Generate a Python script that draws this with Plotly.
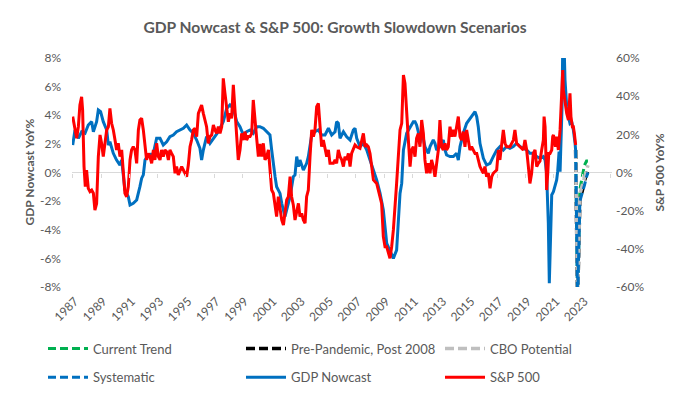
import plotly.graph_objects as go

# ---------------- data ----------------
gdp_dates = [
    1986.84, 1987.00, 1987.24, 1987.47, 1987.71, 1987.94, 1988.18, 1988.30, 1988.53, 1988.65,
    1988.81, 1989.00, 1989.24, 1989.36, 1989.47, 1989.59, 1989.71, 1989.94, 1990.18, 1990.30,
    1990.42, 1990.53, 1990.77, 1990.89, 1991.12, 1991.36, 1991.59, 1991.71, 1991.83, 1991.95,
    1992.18, 1992.54, 1992.77, 1993.01, 1993.24, 1993.48, 1993.71, 1993.95, 1994.18, 1994.42,
    1994.66, 1994.89, 1995.13, 1995.36, 1995.60, 1995.83, 1995.95, 1996.07, 1996.30, 1996.54,
    1996.78, 1997.13, 1997.48, 1997.72, 1997.95, 1998.19, 1998.43, 1998.66, 1998.90, 1999.13,
    1999.37, 1999.60, 1999.84, 2000.07, 2000.31, 2000.55, 2000.78, 2000.90, 2001.02, 2001.14,
    2001.25, 2001.49, 2001.61, 2001.73, 2001.84, 2001.96, 2002.20, 2002.43, 2002.55, 2002.67,
    2002.79, 2002.90, 2003.02, 2003.14, 2003.37, 2003.49, 2003.73, 2003.96, 2004.20, 2004.43,
    2004.67, 2004.91, 2005.14, 2005.38, 2005.49, 2005.61, 2005.73, 2005.97, 2006.20, 2006.44,
    2006.67, 2006.79, 2006.91, 2007.14, 2007.38, 2007.62, 2007.85, 2008.09, 2008.32, 2008.56,
    2008.79, 2009.03, 2009.26, 2009.50, 2009.73, 2009.85, 2009.97, 2010.09, 2010.21, 2010.44,
    2010.68, 2010.91, 2011.03, 2011.14, 2011.26, 2011.38, 2011.50, 2011.62, 2011.73, 2011.85,
    2011.97, 2012.09, 2012.32, 2012.44, 2012.56, 2012.79, 2013.03, 2013.15, 2013.26, 2013.50,
    2013.74, 2013.97, 2014.09, 2014.21, 2014.44, 2014.68, 2014.91, 2015.15, 2015.27, 2015.39,
    2015.50, 2015.62, 2015.74, 2015.86, 2016.09, 2016.33, 2016.56, 2016.80, 2017.03, 2017.27,
    2017.50, 2017.74, 2017.98, 2018.21, 2018.45, 2018.68, 2018.92, 2019.15, 2019.39, 2019.63,
    2019.86, 2020.10, 2020.22, 2020.33, 2020.45, 2020.52, 2020.62, 2020.69, 2020.81, 2020.92,
    2021.04, 2021.11, 2021.21, 2021.28, 2021.35, 2021.42, 2021.47, 2021.56, 2021.63, 2021.75,
    2021.87, 2021.98, 2022.10, 2022.22, 2022.34, 2022.38,
]
gdp_yoy = [
    1.92, 2.97, 2.39, 2.85, 2.74, 3.32, 3.55, 2.85, 3.55, 4.37,
    4.25, 3.55, 2.97, 1.92, 2.15, 1.69, 1.34, 0.87, 0.52, 0.87,
    -0.41, -1.22, -1.69, -2.27, -2.15, -1.92, -0.99, -0.41, -0.17, 0.87,
    1.22, 1.34, 2.39, 2.39, 1.92, 2.15, 2.50, 2.62, 2.85, 2.97,
    3.09, 3.32, 2.97, 2.74, 2.27, 1.69, 0.87, 1.57, 2.50, 2.04,
    2.39, 2.85, 3.55, 4.48, 4.72, 4.48, 3.55, 3.20, 2.62, 2.85,
    2.97, 2.74, 3.20, 3.20, 3.09, 2.85, 2.62, 1.57, 0.41, -0.29,
    -0.99, -1.46, -2.15, -2.62, -3.09, -2.62, -1.69, -0.29, -0.17, 1.11,
    0.41, 0.87, 0.52, 0.17, 0.64, 1.11, 2.62, 2.85, 2.97, 2.62,
    2.62, 3.09, 2.62, 2.85, 3.55, 3.44, 2.39, 2.85, 2.50, 2.27,
    2.97, 3.09, 2.39, 1.81, 2.04, 1.57, 0.87, 0.17, -0.52, -1.46,
    -2.62, -4.95, -5.42, -6.00, -5.42, -3.55, -1.46, -0.76, 1.57, 2.74,
    3.20, 3.55, 3.55, 3.32, 2.85, 2.04, 2.97, 2.27, 1.81, 1.57,
    1.34, 1.81, 2.27, 2.04, 1.57, 1.81, 2.27, 1.57, 1.22, 1.11,
    1.11, 1.34, 0.87, 1.81, 2.74, 3.44, 3.79, 4.13, 4.25, 3.90,
    3.20, 2.04, 1.57, 0.99, 0.52, 0.64, 1.11, 1.57, 1.81, 1.57,
    1.81, 1.69, 1.81, 2.04, 1.81, 1.69, 1.57, 1.34, 1.34, 1.11,
    0.99, 1.11, 0.87, -0.06, -3.55, -7.74, -2.86, -1.57, -1.34, -0.99,
    -0.52, 0.06, 1.46, 0.06, 1.81, 4.60, 9.00, 9.00, 6.46, 4.60,
    3.90, 3.44, 3.55, 2.97, 2.04, 1.57,
]

sp_dates = [
    1986.84, 1987.00, 1987.12, 1987.24, 1987.35, 1987.47, 1987.54, 1987.64, 1987.73, 1987.82,
    1987.94, 1988.06, 1988.18, 1988.30, 1988.41, 1988.53, 1988.65, 1988.77, 1988.88, 1989.00,
    1989.12, 1989.24, 1989.36, 1989.47, 1989.59, 1989.71, 1989.83, 1989.94, 1990.06, 1990.18,
    1990.30, 1990.42, 1990.53, 1990.65, 1990.77, 1990.89, 1991.00, 1991.12, 1991.24, 1991.36,
    1991.48, 1991.59, 1991.71, 1991.83, 1991.95, 1992.06, 1992.18, 1992.30, 1992.42, 1992.54,
    1992.65, 1992.77, 1992.89, 1993.01, 1993.12, 1993.24, 1993.36, 1993.48, 1993.60, 1993.71,
    1993.83, 1993.95, 1994.07, 1994.18, 1994.30, 1994.42, 1994.54, 1994.66, 1994.77, 1994.89,
    1995.01, 1995.13, 1995.24, 1995.36, 1995.48, 1995.60, 1995.72, 1995.83, 1995.95, 1996.07,
    1996.19, 1996.30, 1996.42, 1996.54, 1996.66, 1996.78, 1996.89, 1997.01, 1997.13, 1997.25,
    1997.37, 1997.48, 1997.60, 1997.72, 1997.84, 1997.95, 1998.07, 1998.19, 1998.31, 1998.43,
    1998.54, 1998.66, 1998.78, 1998.90, 1999.01, 1999.13, 1999.25, 1999.37, 1999.49, 1999.60,
    1999.72, 1999.84, 1999.96, 2000.07, 2000.19, 2000.31, 2000.43, 2000.55, 2000.67, 2000.78,
    2000.90, 2001.02, 2001.14, 2001.25, 2001.37, 2001.49, 2001.61, 2001.73, 2001.84, 2001.96,
    2002.08, 2002.20, 2002.31, 2002.43, 2002.55, 2002.67, 2002.79, 2002.90, 2003.02, 2003.14,
    2003.26, 2003.37, 2003.49, 2003.61, 2003.73, 2003.85, 2003.96, 2004.08, 2004.20, 2004.32,
    2004.43, 2004.55, 2004.67, 2004.79, 2004.91, 2005.02, 2005.14, 2005.26, 2005.38, 2005.49,
    2005.61, 2005.73, 2005.85, 2005.97, 2006.08, 2006.20, 2006.32, 2006.44, 2006.55, 2006.67,
    2006.79, 2006.91, 2007.14, 2007.38, 2007.50, 2007.62, 2007.73, 2007.85, 2007.97, 2008.09,
    2008.32, 2008.44, 2008.56, 2008.67, 2008.79, 2008.91, 2009.03, 2009.15, 2009.26, 2009.38,
    2009.50, 2009.73, 2009.85, 2009.97, 2010.09, 2010.21, 2010.32, 2010.44, 2010.56, 2010.68,
    2010.79, 2010.91, 2011.03, 2011.14, 2011.26, 2011.38, 2011.50, 2011.62, 2011.73, 2011.85,
    2011.97, 2012.09, 2012.20, 2012.32, 2012.44, 2012.56, 2012.68, 2012.79, 2012.91, 2013.03,
    2013.15, 2013.26, 2013.38, 2013.50, 2013.62, 2013.74, 2013.85, 2013.97, 2014.09, 2014.21,
    2014.32, 2014.44, 2014.56, 2014.68, 2014.80, 2014.91, 2015.03, 2015.15, 2015.27, 2015.39,
    2015.50, 2015.62, 2015.74, 2015.86, 2015.97, 2016.09, 2016.21, 2016.33, 2016.45, 2016.56,
    2016.80, 2016.92, 2017.03, 2017.27, 2017.39, 2017.50, 2017.74, 2017.98, 2018.09, 2018.21,
    2018.45, 2018.68, 2018.80, 2018.92, 2019.04, 2019.15, 2019.27, 2019.39, 2019.51, 2019.63,
    2019.74, 2019.86, 2019.98, 2020.10, 2020.15, 2020.22, 2020.29, 2020.33, 2020.41, 2020.48,
    2020.57, 2020.69, 2020.76, 2020.81, 2020.88, 2020.95, 2021.04, 2021.16, 2021.28, 2021.35,
    2021.39, 2021.47, 2021.51, 2021.58, 2021.65, 2021.75, 2021.87, 2021.98, 2022.05, 2022.15,
    2022.22, 2022.29, 2022.38,
]
sp_yoy = [
    29.3, 22.3, 17.9, 24.0, 35.4, 39.7, 32.8, 3.1, -7.4, 1.3,
    -8.3, -10.0, -9.2, -10.9, -19.7, -16.2, 8.3, 19.7, 15.3, 8.3,
    17.0, 22.3, 24.0, 33.6, 25.8, 22.3, 17.0, 11.8, 15.3, 8.3,
    11.8, -2.2, -10.9, -12.7, -7.4, 6.6, 11.8, 13.5, 11.8, 4.8,
    22.3, 27.5, 28.4, 22.3, 11.8, 6.6, 10.0, 8.3, 4.8, 11.8,
    6.6, 15.3, 8.3, 6.6, 11.8, 8.3, 11.8, 10.9, 6.6, 11.8,
    10.0, 8.3, -0.4, 3.1, -1.3, 1.3, 3.1, 1.3, -0.4, -2.2,
    3.9, 13.5, 17.0, 22.3, 23.1, 18.8, 31.0, 33.6, 35.4, 31.0,
    27.5, 24.0, 15.3, 18.8, 19.7, 24.9, 22.3, 20.5, 24.0, 20.5,
    24.0, 49.3, 41.5, 32.8, 26.6, 31.0, 28.4, 45.9, 32.8, 15.3,
    6.6, 11.8, 20.5, 17.0, 21.4, 17.0, 18.8, 18.8, 20.5, 38.0,
    25.8, 17.9, 8.3, 15.0, 8.3, 15.3, 6.6, 8.3, 11.8, 3.1,
    -9.2, -10.9, -17.9, -23.1, -12.7, -17.9, -24.9, -27.5, -19.7, -14.4,
    -12.7, -2.2, -12.7, -17.0, -24.9, -19.7, -16.2, -23.1, -21.4, -24.9,
    -26.6, -12.7, -9.2, 8.3, 22.3, 18.8, 22.3, 34.5, 36.2, 24.0,
    13.5, 17.0, 11.8, 8.3, 11.8, 4.8, 4.8, 4.8, 6.6, 4.8,
    11.8, 8.3, 6.6, 3.1, 8.3, 6.6, 10.0, 3.1, 10.0, 11.8,
    14.4, 13.5, 12.7, 20.5, 13.5, 14.4, 13.5, 10.0, 3.1, -3.9,
    -5.7, -9.2, -12.7, -16.2, -33.6, -38.9, -38.9, -41.5, -45.0, -38.9,
    -30.1, -5.7, 11.8, 22.3, 25.8, 51.1, 46.7, 34.5, 17.0, 3.1,
    11.8, 13.5, 8.3, 17.9, 20.5, 13.5, 27.5, 20.5, 6.6, -0.4,
    4.8, -0.4, 6.6, 3.1, -2.2, 4.8, 11.8, 27.5, 13.5, 11.8,
    15.3, 11.8, 13.5, 24.0, 18.8, 22.3, 18.8, 24.0, 29.3, 18.8,
    17.0, 21.4, 13.5, 22.3, 15.3, 11.8, 13.5, 11.8, 10.0, 10.0,
    6.6, 3.1, 1.3, -0.4, 3.1, -2.2, -0.4, -8.3, -2.2, -0.4,
    1.3, 11.8, 6.6, 22.3, 15.3, 13.5, 13.5, 17.0, 22.3, 15.3,
    13.5, 11.8, 17.0, 11.8, 3.1, -5.7, -0.4, 10.0, 11.8, 3.1,
    4.8, 6.0, 11.8, 17.0, 29.3, 24.0, 6.6, -9.2, -0.4, 10.0,
    10.0, 11.8, 18.8, 19.7, 17.0, 13.5, 18.8, 11.8, 22.3, 38.0,
    46.7, 53.7, 43.2, 38.0, 36.2, 31.0, 27.5, 41.5, 29.3, 24.0,
    24.0, 20.5, 14.4,
]

scen_dates = [2022.38, 2022.52, 2022.68, 2022.85, 2023.00, 2023.15, 2023.25]
current_trend = [1.57, -9.0, -1.2, -0.3, 0.5, 0.8, 0.8]
pre_pandemic = [1.57, -9.0, -1.8, -1.3, -0.6, 0.0, 0.2]
cbo_potential = [1.57, -9.0, -1.5, -0.9, -0.2, 0.3, 0.5]
systematic = [1.57, -9.0, -2.0, -1.5, -0.9, -0.3, 0.0]

year_labels = ["1987", "1989", "1991", "1993", "1995", "1997", "1999", "2001", "2003",
               "2005", "2007", "2009", "2011", "2013", "2015", "2017", "2019", "2021", "2023"]
left_ticks = [-8, -6, -4, -2, 0, 2, 4, 6, 8]
right_ticks = [-60, -40, -20, 0, 20, 40, 60]

# ---------------- styling ----------------
FONT = "Lato"
GREY = "#595959"
x_range = [1986.79, 2024.95]
W, H = 673, 389          # page adds an 8px body margin around the figure
ML, MR, MT, MB = 64, 69, 50, 110
PW = W - ML - MR

fig = go.Figure()

fig.add_trace(go.Scatter(x=gdp_dates, y=gdp_yoy, name="GDP Nowcast", mode="lines",
                         line=dict(color="#0070C0", width=3),
                         legend="legend2", legendgroup="g5", legendrank=2))
fig.add_trace(go.Scatter(x=scen_dates, y=current_trend, name="Current Trend", mode="lines",
                         line=dict(color="#00B050", width=3, dash="8px,4px"),
                         legend="legend", legendgroup="g1", legendrank=1))
fig.add_trace(go.Scatter(x=scen_dates, y=pre_pandemic, name="Pre-Pandemic, Post 2008", mode="lines",
                         line=dict(color="#000000", width=3.5, dash="9px,4px"),
                         legend="legend2", legendgroup="g2", legendrank=1))
fig.add_trace(go.Scatter(x=scen_dates, y=cbo_potential, name="CBO Potential", mode="lines",
                         line=dict(color="#BFBFBF", width=3.5, dash="9px,4px"),
                         legend="legend3", legendgroup="g3", legendrank=1))
fig.add_trace(go.Scatter(x=scen_dates, y=systematic, name="Systematic", mode="lines",
                         line=dict(color="#0070C0", width=3, dash="8px,4px"),
                         legend="legend", legendgroup="g4", legendrank=2))
fig.add_trace(go.Scatter(x=sp_dates, y=sp_yoy, name="S&P 500", mode="lines", yaxis="y2",
                         line=dict(color="#FF0000", width=3),
                         legend="legend3", legendgroup="g6", legendrank=2))

# invisible trace that carries the tick-mark axis drawn on the zero line
fig.add_trace(go.Scatter(x=[x_range[0]], y=[0], xaxis="x2", mode="markers",
                         marker=dict(opacity=0), showlegend=False, hoverinfo="skip"))

label_years = [int(s) for s in year_labels]
mark_years = [y - 0.16 for y in label_years] + [label_years[-1] + 2 - 0.16]


def col_legend(px):
    # px: screen x where the legend box starts
    return dict(orientation="v", x=(px - 8 - ML) / PW, xanchor="left", y=-0.203, yanchor="top",
                bgcolor="rgba(0,0,0,0)", tracegroupgap=9, itemwidth=40,
                font=dict(family=FONT, size=13, color=GREY), traceorder="grouped")


def ann_x(px):
    return (px - 8 - ML) / PW


fig.update_layout(
    width=W, height=H,
    margin=dict(l=ML, r=MR, t=MT, b=MB, autoexpand=False),
    paper_bgcolor="white", plot_bgcolor="white",
    font=dict(family=FONT, color=GREY, size=12),
    title=dict(text="<b>GDP Nowcast & S&P 500: Growth Slowdown Scenarios</b>",
               x=(335 - 8) / W, xanchor="center", y=1 - 20 / H, yanchor="middle",
               font=dict(family=FONT, size=15.6, color=GREY)),
    xaxis=dict(range=x_range, tickvals=label_years, ticktext=year_labels, tickangle=-45,
               showgrid=False, zeroline=False, showline=False, ticks="",
               ticklabelstandoff=4, tickfont=dict(size=12, color=GREY)),
    xaxis2=dict(range=x_range, overlaying="x", anchor="free", position=0.5, side="bottom",
                tickvals=mark_years, ticks="outside", ticklen=4, tickcolor="#D9D9D9",
                showticklabels=False, showgrid=False, zeroline=False, showline=False),
    yaxis=dict(range=[-8, 8], tickvals=left_ticks, ticktext=[f"{v}%" for v in left_ticks],
               showgrid=False, zeroline=True, zerolinecolor="#D9D9D9", zerolinewidth=1,
               showline=False, ticks="", ticklabelstandoff=10,
               tickfont=dict(size=12, color=GREY)),
    yaxis2=dict(range=[-60, 60], tickvals=right_ticks, ticktext=[f"{v}%" for v in right_ticks],
                overlaying="y", side="right", showgrid=False, zeroline=False, showline=False,
                ticks="", ticklabelstandoff=3, tickfont=dict(size=12, color=GREY)),
    legend=col_legend(43),
    legend2=col_legend(241),
    legend3=col_legend(440),
    annotations=[
        dict(text="<b>GDP Nowcast YoY%</b>", xref="paper", yref="paper",
             x=ann_x(29), y=0.5, textangle=-90, showarrow=False,
             xanchor="center", yanchor="middle", font=dict(size=12, color=GREY)),
        dict(text="<b>S&P 500 YoY%</b>", xref="paper", yref="paper",
             x=ann_x(659), y=0.5, textangle=-90, showarrow=False,
             xanchor="center", yanchor="middle", font=dict(size=12, color=GREY)),
    ],
    showlegend=True,
)

fig.write_html("out.html")
